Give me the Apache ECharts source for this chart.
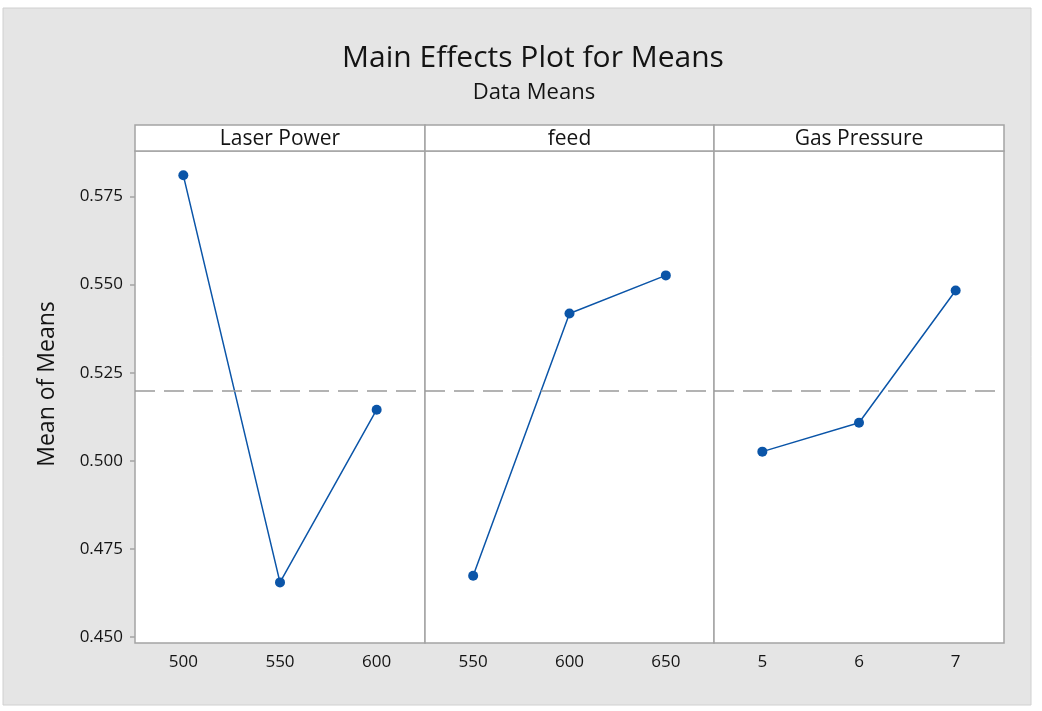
<!DOCTYPE html>
<html>
<head>
<meta charset="utf-8">
<script src="https://cdn.jsdelivr.net/npm/echarts@6/dist/echarts.min.js"></script>
<style>
  html, body { margin: 0; padding: 0; background: #fff; }
  #chart { width: 1042px; height: 711px; }
</style>
</head>
<body>
<div id="chart"></div>
<script>
// factor levels and means
const panelTitles = ['Laser Power', 'feed', 'Gas Pressure'];
const laserPower = ['500', '550', '600'];
const laserMeans = [0.5810, 0.4655, 0.5145];
const feed = ['550', '600', '650'];
const feedMeans = [0.4674, 0.5418, 0.5526];
const gasPressure = ['5', '6', '7'];
const gasMeans = [0.5026, 0.5108, 0.5483];
const grandMean = 0.5205;
const yTicks = [0.450, 0.475, 0.500, 0.525, 0.550, 0.575];

const levels = [laserPower, feed, gasPressure];
const means = [laserMeans, feedMeans, gasMeans];

const FONT = 'Open Sans';
const BLUE = '#0b55a8';
const BORDER = '#a4a4a4';
const TEXT = '#141414';

// panel layout
const edges = [135, 425, 714, 1004];
const plotTop = 151;
const plotBottom = 643;
const headerTop = 125;

const chart = echarts.init(document.getElementById('chart'));

const grids = [];
const xAxes = [];
const yAxes = [];
const series = [];
const headers = [];

for (let i = 0; i < 3; i++) {
  grids.push({
    left: edges[i],
    width: edges[i + 1] - edges[i],
    top: plotTop,
    height: plotBottom - plotTop,
    show: true,
    backgroundColor: '#fff',
    borderColor: BORDER,
    borderWidth: 1.5,
  });

  xAxes.push({
    gridIndex: i,
    type: 'category',
    data: levels[i],
    boundaryGap: true,
    axisLine: { show: false },
    axisTick: {
      alignWithLabel: true,
      length: 5,
      lineStyle: { color: BORDER, width: 1.5 },
    },
    axisLabel: {
      color: TEXT,
      fontFamily: FONT,
      fontSize: 17,
      margin: 11,
    },
    splitLine: { show: false },
  });

  yAxes.push({
    gridIndex: i,
    type: 'value',
    min: 0.4483,
    max: 0.5879,
    axisLine: { show: false },
    axisTick: {
      show: i === 0,
      length: 5,
      customValues: yTicks,
      lineStyle: { color: BORDER, width: 1.5 },
    },
    axisLabel: {
      show: i === 0,
      customValues: yTicks,
      color: TEXT,
      fontFamily: FONT,
      fontSize: 17,
      margin: 12,
      formatter: (v) => v.toFixed(3),
    },
    splitLine: { show: false },
  });

  series.push({
    type: 'line',
    xAxisIndex: i,
    yAxisIndex: i,
    data: means[i],
    symbol: 'circle',
    symbolSize: 10,
    itemStyle: { color: BLUE },
    lineStyle: { color: BLUE, width: 1.5 },
    markLine: {
      silent: true,
      symbol: 'none',
      label: { show: false },
      lineStyle: { color: '#9a9a9a', type: [20, 9], width: 1.5 },
      data: [{ yAxis: grandMean }],
    },
    z: 3,
  });

  headers.push({
    type: 'group',
    children: [
      {
        type: 'rect',
        shape: { x: edges[i], y: headerTop, width: edges[i + 1] - edges[i], height: plotTop - headerTop },
        style: { fill: '#fff', stroke: BORDER, lineWidth: 1.5 },
      },
      {
        type: 'text',
        x: (edges[i] + edges[i + 1]) / 2,
        y: (headerTop + plotTop) / 2 + 1,
        style: {
          text: panelTitles[i],
          fill: TEXT,
          font: '21px "' + FONT + '"',
          align: 'center',
          verticalAlign: 'middle',
        },
      },
    ],
  });
}

const option = {
  animation: false,
  backgroundColor: '#fff',
  title: [
    {
      text: 'Main Effects Plot for Means',
      left: 528,
      textAlign: 'center',
      top: 38,
      textStyle: { fontFamily: FONT, fontSize: 30, fontWeight: 'normal', color: TEXT },
    },
    {
      text: 'Data Means',
      left: 529,
      textAlign: 'center',
      top: 77,
      textStyle: { fontFamily: FONT, fontSize: 22, fontWeight: 'normal', color: TEXT },
    },
  ],
  graphic: [
    {
      type: 'rect',
      z: -10,
      shape: { x: 3, y: 8, width: 1028, height: 697 },
      style: { fill: '#e5e5e5', stroke: '#d0d0d0', lineWidth: 1 },
    },
    ...headers,
    {
      type: 'text',
      x: 47,
      y: (headerTop + plotBottom) / 2,
      rotation: Math.PI / 2,
      style: {
        text: 'Mean of Means',
        fill: TEXT,
        font: '23px "' + FONT + '"',
        align: 'center',
        verticalAlign: 'middle',
      },
    },
  ],
  grid: grids,
  xAxis: xAxes,
  yAxis: yAxes,
  series: series,
};

chart.setOption(option);
</script>
</body>
</html>
